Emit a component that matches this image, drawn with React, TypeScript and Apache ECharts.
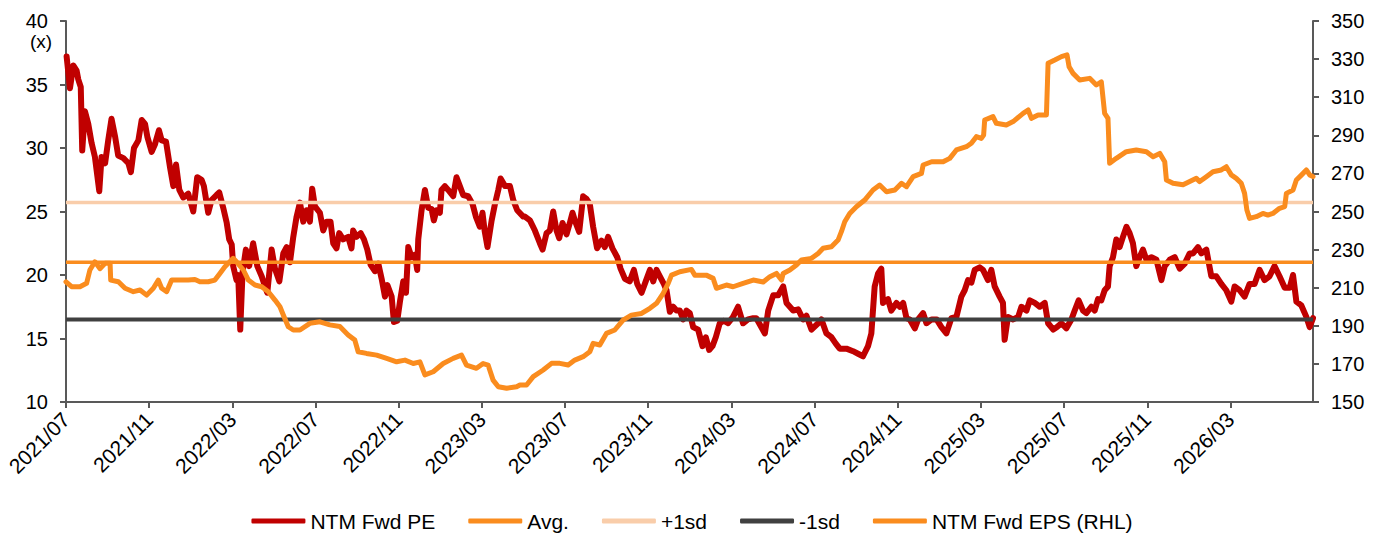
import React, { useEffect, useRef } from "react";
import * as echarts from "echarts";

// x = months since 2021/07/01
const xTickLabels = [
  "2021/07", "2021/11", "2022/03", "2022/07", "2022/11", "2023/03", "2023/07", "2023/11",
  "2024/03", "2024/07", "2024/11", "2025/03", "2025/07", "2025/11", "2026/03",
];
const xMaxMonth = 59.97;

const avgPe = 21.0;
const plus1Sd = 25.7;
const minus1Sd = 16.5;

const ntmFwdPe: [number, number][] = [
  [0.03, 37.2], [0.19, 34.7], [0.35, 36.5], [0.51, 36.1], [0.59, 35.4], [0.71, 34.8], [0.78, 29.8],
  [0.91, 32.9], [1.07, 31.9], [1.23, 30.4], [1.39, 29.3], [1.6, 26.6], [1.71, 29.3], [1.88, 28.8],
  [2.03, 30.6], [2.19, 32.3], [2.36, 30.9], [2.51, 29.4], [2.76, 29.2], [3.0, 28.8], [3.12, 28.1],
  [3.27, 30.0], [3.48, 30.6], [3.64, 32.2], [3.8, 31.9], [3.91, 30.9], [4.12, 29.7], [4.28, 30.3],
  [4.47, 31.4], [4.6, 30.6], [4.81, 30.5], [5.0, 28.5], [5.16, 27.0], [5.29, 28.7], [5.45, 26.7],
  [5.64, 26.1], [5.88, 26.4], [6.12, 25.0], [6.31, 27.7], [6.52, 27.5], [6.63, 27.0], [6.84, 24.9],
  [7.0, 25.9], [7.24, 26.3], [7.37, 26.5], [7.56, 25.3], [7.73, 24.1], [7.85, 22.8], [7.97, 22.4],
  [8.04, 20.7], [8.2, 19.6], [8.28, 20.0], [8.38, 15.7], [8.49, 20.2], [8.65, 22.0], [8.81, 20.7],
  [9.0, 22.5], [9.2, 20.7], [9.41, 19.9], [9.57, 19.1], [9.68, 18.6], [9.89, 22.0], [10.05, 20.5],
  [10.26, 19.5], [10.45, 21.7], [10.61, 22.2], [10.77, 21.0], [10.93, 23.0], [11.09, 24.6],
  [11.25, 25.7], [11.41, 24.2], [11.57, 25.1], [11.73, 24.2], [11.84, 26.8], [11.97, 25.4],
  [12.21, 24.9], [12.37, 23.5], [12.53, 24.2], [12.72, 24.2], [12.85, 22.5], [13.01, 22.1],
  [13.14, 23.3], [13.33, 22.8], [13.57, 23.0], [13.73, 22.1], [13.81, 23.5], [13.97, 23.0],
  [14.17, 23.3], [14.33, 22.8], [14.49, 22.0], [14.65, 20.8], [14.86, 20.3], [15.02, 20.9],
  [15.18, 19.7], [15.34, 18.3], [15.46, 19.2], [15.66, 18.3], [15.77, 16.3], [15.93, 16.4],
  [16.06, 17.9], [16.22, 19.5], [16.35, 18.6], [16.46, 22.2], [16.62, 21.4], [16.78, 21.6],
  [16.89, 20.4], [16.94, 22.8], [17.1, 25.1], [17.26, 26.7], [17.42, 25.3], [17.58, 25.2],
  [17.69, 24.3], [17.82, 25.1], [17.98, 24.9], [18.06, 26.7], [18.22, 27.0], [18.38, 26.7],
  [18.62, 26.2], [18.78, 27.7], [18.94, 27.0], [19.1, 26.3], [19.34, 26.2], [19.55, 25.6],
  [19.71, 24.6], [19.9, 23.8], [20.03, 24.9], [20.14, 23.4], [20.27, 22.2], [20.47, 24.3],
  [20.63, 25.6], [20.79, 26.7], [20.9, 27.6], [21.11, 27.0], [21.35, 27.0], [21.51, 25.9],
  [21.7, 25.1], [21.99, 24.6], [22.07, 24.6], [22.31, 24.3], [22.55, 23.5], [22.79, 22.5],
  [22.92, 22.0], [23.11, 23.3], [23.27, 23.5], [23.43, 25.0], [23.59, 23.5], [23.72, 22.9],
  [23.88, 24.1], [24.07, 23.2], [24.23, 24.1], [24.36, 24.9], [24.47, 24.3], [24.68, 23.4],
  [24.87, 26.2], [25.03, 26.0], [25.19, 25.6], [25.35, 23.8], [25.54, 22.1], [25.75, 22.7],
  [25.91, 22.2], [26.07, 23.0], [26.28, 22.1], [26.51, 21.4], [26.67, 20.5], [26.88, 19.7],
  [27.11, 19.5], [27.31, 20.4], [27.47, 19.3], [27.68, 18.6], [27.88, 19.5], [28.08, 20.4],
  [28.24, 19.5], [28.4, 20.4], [28.56, 19.9], [28.75, 19.3], [28.88, 18.8], [29.04, 17.1],
  [29.2, 17.5], [29.36, 17.2], [29.52, 17.2], [29.68, 16.5], [29.84, 17.2], [30.0, 17.0],
  [30.16, 15.9], [30.4, 15.7], [30.61, 14.4], [30.77, 15.1], [30.93, 14.1], [31.09, 14.4],
  [31.25, 15.1], [31.44, 16.2], [31.63, 16.4], [31.84, 16.2], [32.08, 16.7], [32.32, 17.5],
  [32.56, 16.2], [32.8, 16.5], [33.05, 16.6], [33.2, 16.6], [33.61, 15.4], [33.77, 17.2],
  [34.01, 18.4], [34.25, 18.4], [34.49, 19.1], [34.65, 17.8], [34.97, 17.2], [35.21, 17.3],
  [35.45, 16.5], [35.61, 16.8], [35.85, 15.7], [36.17, 16.2], [36.33, 16.5], [36.57, 15.4],
  [36.81, 15.1], [37.02, 14.6], [37.21, 14.2], [37.53, 14.2], [37.85, 14.0], [38.09, 13.8],
  [38.33, 13.6], [38.57, 14.4], [38.73, 15.4], [38.89, 19.1], [39.05, 20.1], [39.21, 20.5],
  [39.29, 17.8], [39.53, 18.1], [39.69, 17.2], [39.94, 17.8], [40.1, 17.5], [40.26, 17.8],
  [40.42, 16.6], [40.58, 16.5], [40.82, 15.8], [40.98, 16.5], [41.22, 17.0], [41.38, 16.2],
  [41.63, 16.5], [41.87, 16.5], [42.1, 15.9], [42.34, 15.4], [42.58, 16.6], [42.82, 16.7],
  [43.06, 18.3], [43.22, 18.8], [43.38, 19.6], [43.54, 19.4], [43.7, 20.4], [43.94, 20.6],
  [44.1, 20.4], [44.34, 19.6], [44.5, 20.4], [44.66, 19.1], [44.9, 18.3], [45.06, 17.8],
  [45.14, 14.9], [45.3, 16.7], [45.55, 16.5], [45.79, 16.7], [45.95, 17.5], [46.19, 17.2],
  [46.35, 18.0], [46.59, 17.8], [46.83, 17.5], [47.07, 17.8], [47.23, 16.2], [47.48, 15.7],
  [47.66, 15.9], [47.87, 16.2], [48.11, 15.8], [48.35, 16.5], [48.51, 17.2], [48.7, 18.0],
  [48.91, 17.2], [49.07, 17.0], [49.31, 17.5], [49.47, 17.2], [49.63, 18.1], [49.79, 18.0],
  [49.95, 18.8], [50.11, 19.1], [50.19, 20.7], [50.35, 21.4], [50.51, 22.8], [50.67, 22.2],
  [50.83, 23.0], [51.0, 23.8], [51.15, 23.3], [51.31, 22.5], [51.47, 20.7], [51.63, 21.4],
  [51.79, 22.0], [51.96, 21.2], [52.2, 21.4], [52.44, 21.2], [52.68, 19.6], [52.84, 20.7],
  [53.08, 21.2], [53.32, 21.4], [53.56, 20.5], [53.8, 20.9], [54.04, 21.7], [54.2, 21.7],
  [54.44, 22.2], [54.6, 21.7], [54.84, 22.0], [55.08, 19.9], [55.32, 19.9], [55.56, 19.3],
  [55.8, 18.8], [56.04, 17.9], [56.2, 19.1], [56.44, 18.8], [56.68, 18.3], [56.92, 19.3],
  [57.16, 19.3], [57.4, 20.4], [57.64, 19.6], [57.88, 19.9], [58.12, 20.7], [58.36, 19.9],
  [58.61, 19.0], [58.85, 19.0], [59.01, 20.0], [59.17, 17.9], [59.41, 17.6], [59.65, 16.7],
  [59.81, 15.9], [59.97, 16.6],
];

const ntmFwdEps: [number, number][] = [
  [0.0, 213.1], [0.27, 210.5], [0.67, 210.5], [0.99, 212.3], [1.15, 219.3], [1.39, 223.6],
  [1.63, 220.0], [1.88, 222.8], [2.12, 222.8], [2.15, 214.0], [2.52, 213.1], [2.84, 209.7],
  [3.24, 207.9], [3.56, 208.8], [3.88, 206.1], [4.2, 209.7], [4.44, 214.0], [4.6, 209.7],
  [4.84, 207.9], [5.08, 214.0], [5.48, 214.0], [5.88, 214.0], [6.2, 214.3], [6.44, 213.1],
  [6.84, 213.1], [7.16, 214.0], [7.4, 217.5], [7.64, 221.0], [7.96, 224.5], [8.04, 225.4],
  [8.2, 223.6], [8.53, 219.3], [8.77, 214.0], [9.09, 211.4], [9.41, 210.5], [9.73, 207.9],
  [10.05, 203.5], [10.29, 200.0], [10.45, 195.7], [10.69, 189.5], [10.93, 187.8], [11.25, 187.8],
  [11.73, 191.3], [12.21, 192.1], [12.69, 190.5], [13.17, 189.6], [13.57, 185.2], [13.89, 182.5],
  [14.05, 176.4], [14.45, 175.5], [14.94, 174.6], [15.42, 172.9], [15.9, 171.1], [16.3, 172.0],
  [16.7, 170.2], [17.02, 171.1], [17.26, 164.2], [17.66, 165.9], [18.14, 170.2], [18.62, 172.9],
  [19.02, 174.6], [19.26, 169.4], [19.74, 167.7], [20.06, 170.2], [20.3, 169.4], [20.54, 161.5],
  [20.79, 158.0], [21.19, 157.2], [21.67, 158.0], [21.83, 158.9], [22.15, 158.9], [22.47, 163.3],
  [22.95, 166.8], [23.35, 170.3], [23.75, 170.3], [24.15, 169.4], [24.47, 172.0], [24.87, 173.8],
  [25.19, 176.4], [25.35, 180.8], [25.67, 179.9], [25.99, 186.0], [26.39, 187.8], [26.79, 193.0],
  [27.19, 195.6], [27.68, 196.5], [28.08, 199.2], [28.4, 201.8], [28.72, 207.0], [28.96, 212.3],
  [29.12, 216.6], [29.52, 218.4], [30.08, 219.6], [30.24, 216.6], [30.79, 216.6], [31.12, 214.9],
  [31.28, 209.7], [31.76, 211.4], [32.08, 210.5], [32.56, 212.3], [33.05, 214.0], [33.53, 213.0],
  [33.85, 215.8], [34.17, 217.5], [34.41, 214.0], [34.49, 217.5], [34.81, 219.3], [35.13, 221.9],
  [35.37, 224.5], [35.85, 225.4], [36.17, 228.0], [36.41, 230.7], [36.81, 231.5], [37.13, 235.0],
  [37.29, 239.4], [37.45, 244.6], [37.69, 249.0], [38.01, 252.5], [38.41, 256.0], [38.81, 261.3],
  [39.13, 263.9], [39.46, 260.4], [39.86, 261.3], [40.18, 264.8], [40.42, 263.0], [40.74, 268.3],
  [41.14, 270.0], [41.22, 274.4], [41.63, 276.1], [42.18, 276.1], [42.5, 277.9], [42.82, 282.3],
  [43.3, 284.0], [43.54, 285.8], [43.78, 289.3], [44.02, 288.4], [44.13, 290.1], [44.18, 298.0],
  [44.58, 299.8], [44.74, 296.3], [45.22, 295.4], [45.55, 297.2], [46.03, 301.5], [46.27, 303.3],
  [46.43, 298.9], [46.75, 300.7], [47.15, 300.7], [47.23, 327.8], [47.55, 329.5], [47.87, 331.3],
  [48.14, 332.2], [48.24, 326.0], [48.43, 322.5], [48.75, 319.0], [49.23, 319.9], [49.55, 316.4],
  [49.79, 318.1], [49.95, 301.5], [50.11, 298.9], [50.19, 275.3], [50.51, 277.9], [50.99, 281.4],
  [51.47, 282.3], [51.96, 281.4], [52.28, 278.8], [52.6, 280.5], [52.84, 276.1], [52.92, 266.5],
  [53.24, 264.8], [53.72, 264.0], [54.04, 265.7], [54.36, 267.4], [54.52, 265.7], [54.84, 268.3],
  [55.16, 270.9], [55.56, 271.8], [55.8, 273.5], [56.04, 269.2], [56.28, 267.4], [56.52, 264.8],
  [56.68, 259.5], [56.79, 250.8], [56.92, 246.4], [57.24, 247.3], [57.56, 249.0], [57.8, 248.1],
  [58.04, 249.0], [58.36, 251.7], [58.61, 252.6], [58.69, 259.5], [59.01, 261.3], [59.17, 266.5],
  [59.41, 269.1], [59.65, 271.8], [59.81, 269.2], [59.97, 268.3],
];

const FONT = "'Liberation Sans', Arial, sans-serif";
const RED = "#C00000";
const ORANGE = "#FA8C1E";
const PEACH = "#F9CDAA";
const DARK = "#404040";
const AXIS = "#595959";

export default function App() {
  const ref = useRef<HTMLDivElement>(null);

  useEffect(() => {
    if (!ref.current) return;
    const chart = echarts.init(ref.current, undefined, { renderer: "svg" });
    const hline = (v: number) => [[0, v], [xMaxMonth, v]];
    const lineBase = {
      type: "line",
      showSymbol: false,
      symbol: "none",
      silent: true,
    };
    chart.setOption({
      animation: false,
      backgroundColor: "#ffffff",
      textStyle: { fontFamily: FONT },
      grid: { left: 66, right: 71, top: 21, bottom: 132, containLabel: false },
      legend: {
        left: "center",
        top: 504,
        icon: "roundRect",
        itemWidth: 54,
        itemHeight: 5,
        itemGap: 33,
        textStyle: { fontSize: 21, color: "#000", fontFamily: FONT, lineHeight: 24 },
        data: [
          { name: "NTM Fwd PE", itemStyle: { color: RED } },
          { name: "Avg.", itemStyle: { color: ORANGE } },
          { name: "+1sd", itemStyle: { color: PEACH } },
          { name: "-1sd", itemStyle: { color: DARK } },
          { name: "NTM Fwd EPS (RHL)", itemStyle: { color: ORANGE } },
        ],
      },
      graphic: [
        {
          type: "text",
          left: 30,
          top: 32,
          style: { text: "(x)", fontSize: 19, fill: "#000", fontFamily: FONT },
        },
      ],
      xAxis: {
        type: "value",
        min: 0,
        max: xMaxMonth,
        interval: 4,
        splitLine: { show: false },
        axisLine: { lineStyle: { color: AXIS, width: 2 } },
        axisTick: { show: true, inside: false, length: 6, lineStyle: { color: AXIS, width: 2 } },
        axisLabel: {
          rotate: 45,
          fontSize: 21,
          color: "#000",
          fontFamily: FONT,
          margin: 14,
          showMaxLabel: false,
          formatter: (v: number) => {
            const i = Math.round(v / 4);
            if (Math.abs(v - i * 4) > 1e-6) return "";
            return xTickLabels[i] ?? "";
          },
        },
      },
      yAxis: [
        {
          type: "value",
          position: "left",
          min: 10,
          max: 40,
          interval: 5,
          splitLine: { show: false },
          axisLine: { show: true, lineStyle: { color: AXIS, width: 2 } },
          axisTick: { show: true, inside: false, length: 6, lineStyle: { color: AXIS, width: 2 } },
          axisLabel: { fontSize: 20, color: "#000", fontFamily: FONT, margin: 18 },
        },
        {
          type: "value",
          position: "right",
          min: 150,
          max: 350,
          interval: 20,
          splitLine: { show: false },
          axisLine: { show: true, lineStyle: { color: AXIS, width: 2 } },
          axisTick: { show: true, inside: false, length: 6, lineStyle: { color: AXIS, width: 2 } },
          axisLabel: { fontSize: 20, color: "#000", fontFamily: FONT, margin: 18 },
        },
      ],
      series: [
        {
          ...lineBase,
          name: "NTM Fwd PE",
          yAxisIndex: 0,
          data: ntmFwdPe,
          lineStyle: { color: RED, width: 6, cap: "round", join: "round" },
          itemStyle: { color: RED },
        },
        {
          ...lineBase,
          name: "Avg.",
          yAxisIndex: 0,
          data: hline(avgPe),
          lineStyle: { color: ORANGE, width: 3.5 },
          itemStyle: { color: ORANGE },
        },
        {
          ...lineBase,
          name: "+1sd",
          yAxisIndex: 0,
          data: hline(plus1Sd),
          lineStyle: { color: PEACH, width: 3.5 },
          itemStyle: { color: PEACH },
        },
        {
          ...lineBase,
          name: "-1sd",
          yAxisIndex: 0,
          data: hline(minus1Sd),
          lineStyle: { color: DARK, width: 4 },
          itemStyle: { color: DARK },
        },
        {
          ...lineBase,
          name: "NTM Fwd EPS (RHL)",
          yAxisIndex: 1,
          data: ntmFwdEps,
          lineStyle: { color: ORANGE, width: 5, cap: "round", join: "round" },
          itemStyle: { color: ORANGE },
        },
      ],
    });
    return () => chart.dispose();
  }, []);

  return (
    <div
      ref={ref}
      style={{ position: "fixed", left: 0, top: 0, width: 1384, height: 534, background: "#fff" }}
    />
  );
}
